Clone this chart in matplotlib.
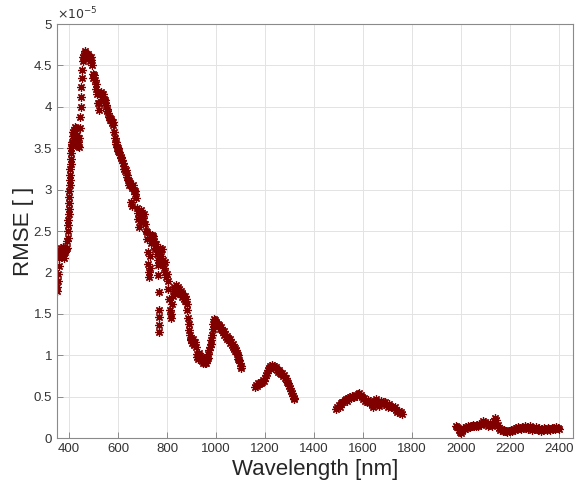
import numpy as np
import matplotlib.pyplot as plt
import matplotlib.ticker as mticker

plt.rcParams["font.family"] = ["Liberation Sans", "DejaVu Sans"]

# RMSE values are in units of 1e-5
wl_vis = [350, 352, 354, 356, 358, 360, 362, 364, 366, 368, 370, 372, 375, 378, 380, 383, 386, 389,
          392, 393, 394, 395, 396, 397, 398, 399, 400, 401, 402, 403, 404, 405, 406, 407, 408, 409, 410,
          412, 414, 416, 418, 420, 422, 424, 426, 428, 430, 432, 434, 436, 438,
          440, 442, 444, 446, 448, 450, 452, 454, 456, 458,
          460, 463, 466, 469, 472, 475, 478, 481, 484, 487, 490,
          493, 496, 499, 502, 505, 508, 511, 514, 517, 520, 523, 526, 529, 532, 535, 538, 541, 544, 547,
          550, 553, 556, 559, 562, 565, 568, 571, 574, 577, 580, 583, 586, 589, 592, 595, 598, 601, 604,
          607, 610, 613, 616, 619, 622, 625, 628, 631, 634, 637, 640, 643, 646, 649, 652, 655, 658, 661,
          664, 667, 670, 673, 676, 679, 682, 685, 688, 691, 694, 697, 700, 703, 706, 709, 712, 716, 718,
          720, 722, 724, 726, 728, 730, 732, 735, 738, 741, 744, 747, 750, 753, 756, 759, 762,
          764, 764.5, 765, 765.5, 766, 766.5, 767, 769, 772, 775, 778, 781, 784, 787, 790, 793, 796, 799,
          802, 805, 808, 811, 814, 817, 820, 823, 826, 829, 832, 835, 838, 841, 844, 847, 850, 853, 856,
          859, 862, 865, 868, 871, 874, 877, 880, 883, 886, 889, 891, 893, 896, 899, 902, 905, 908, 911,
          914, 917, 920, 923, 926, 929, 932, 935, 938, 941, 944, 947, 950, 953, 956, 959, 962, 965, 968,
          971, 974, 977, 980, 983, 986, 989, 992, 995, 998, 1001, 1004, 1007, 1010, 1013, 1016, 1019,
          1022, 1025, 1028, 1031, 1034, 1037, 1040, 1043, 1046, 1049, 1052, 1055, 1058, 1061, 1064, 1067,
          1070, 1073, 1076, 1079, 1082, 1085, 1088, 1091, 1094, 1097, 1100, 1103]
rmse_vis = [1.77, 1.82, 1.90, 1.98, 2.08, 2.18, 2.25, 2.22, 2.28, 2.30, 2.20, 2.27, 2.31, 2.23, 2.18, 2.25, 2.28, 2.30,
            2.38, 2.42, 2.50, 2.57, 2.63, 2.70, 2.77, 2.84, 2.91, 2.98, 3.05, 3.12, 3.18, 3.25, 3.31, 3.37, 3.44, 3.50, 3.55,
            3.58, 3.65, 3.70, 3.62, 3.72, 3.76, 3.68, 3.74, 3.60, 3.55, 3.66, 3.53, 3.58, 3.52,
            3.62, 3.75, 3.88, 4.00, 4.12, 4.24, 4.35, 4.45, 4.55, 4.60,
            4.63, 4.67, 4.65, 4.60, 4.62, 4.58, 4.64, 4.60, 4.55, 4.60, 4.57,
            4.50, 4.40, 4.35, 4.38, 4.32, 4.28, 4.22, 4.15, 4.05, 3.96, 4.05, 4.15, 4.18, 4.15, 4.12, 4.16, 4.10, 4.08, 4.05,
            4.02, 3.98, 3.95, 3.92, 3.88, 3.86, 3.84, 3.85, 3.80, 3.82, 3.78, 3.70, 3.62, 3.55, 3.58, 3.52, 3.50, 3.47, 3.45,
            3.42, 3.38, 3.40, 3.36, 3.32, 3.28, 3.25, 3.22, 3.24, 3.18, 3.15, 3.12, 3.10, 3.05, 3.08, 2.85, 2.80, 3.02, 3.06,
            3.00, 2.95, 2.98, 2.90, 2.78, 2.72, 2.65, 2.55, 2.62, 2.70, 2.75, 2.72, 2.66, 2.62, 2.70, 2.58, 2.50, 2.49, 2.40,
            2.25, 2.10, 2.00, 1.95, 2.05, 2.20, 2.35, 2.42, 2.45, 2.40, 2.44, 2.38, 2.30, 2.34, 2.28, 2.22, 2.15,
            2.09, 1.97, 1.76, 1.55, 1.46, 1.37, 1.28, 2.25, 2.30, 2.20, 2.28, 2.15, 2.10, 2.05, 2.12, 2.00, 1.95, 1.98,
            1.90, 1.80, 1.68, 1.55, 1.45, 1.50, 1.62, 1.72, 1.78, 1.82, 1.75, 1.80, 1.85, 1.78, 1.82, 1.76, 1.80, 1.74, 1.78,
            1.70, 1.75, 1.72, 1.68, 1.72, 1.66, 1.68, 1.62, 1.55, 1.45, 1.38, 1.30, 1.24, 1.20, 1.18, 1.15, 1.20, 1.14, 1.12,
            1.16, 1.10, 1.02, 0.98, 0.96, 1.00, 1.03, 0.98, 0.95, 0.98, 0.93, 0.91, 0.94, 0.92, 0.90, 0.91, 0.95, 0.97, 1.02,
            1.06, 1.10, 1.14, 1.18, 1.25, 1.32, 1.38, 1.44, 1.42, 1.38, 1.40, 1.36, 1.38, 1.35, 1.36, 1.32, 1.34,
            1.30, 1.31, 1.28, 1.29, 1.25, 1.26, 1.22, 1.23, 1.20, 1.21, 1.18, 1.19, 1.15, 1.16, 1.12, 1.13,
            1.10, 1.08, 1.09, 1.05, 1.06, 1.02, 1.00, 0.96, 0.94, 0.90, 0.87, 0.84]

wl_nir1 = [1158, 1162, 1166, 1170, 1174, 1178, 1182, 1186, 1190, 1194, 1198, 1202, 1206, 1210, 1214, 1218,
           1222, 1226, 1230, 1234, 1238, 1242, 1246, 1250, 1254, 1258, 1262, 1266, 1270, 1274, 1278, 1282,
           1286, 1290, 1294, 1298, 1302, 1306, 1310, 1314, 1318, 1320]
rmse_nir1 = [0.62, 0.64, 0.63, 0.66, 0.65, 0.67, 0.66, 0.68, 0.70, 0.69, 0.72, 0.76, 0.78, 0.82, 0.85, 0.84,
             0.87, 0.86, 0.88, 0.85, 0.87, 0.84, 0.86, 0.82, 0.80, 0.82, 0.79, 0.77, 0.78, 0.75, 0.76, 0.73,
             0.72, 0.68, 0.66, 0.63, 0.60, 0.57, 0.54, 0.51, 0.48, 0.47]

wl_swir1 = list(range(1490, 1761, 5))
rmse_swir1 = [0.35, 0.37, 0.40, 0.38, 0.42, 0.44, 0.43, 0.46, 0.47, 0.45, 0.48, 0.50, 0.48, 0.51, 0.49, 0.50,
              0.52, 0.51, 0.53, 0.54, 0.52, 0.50, 0.47, 0.48, 0.45, 0.44, 0.46, 0.43, 0.45, 0.40, 0.38, 0.41,
              0.45, 0.47, 0.43, 0.39, 0.42, 0.45, 0.43, 0.41, 0.43, 0.40, 0.38, 0.41, 0.39, 0.37, 0.38, 0.36,
              0.37, 0.34, 0.32, 0.33, 0.30, 0.31, 0.29]

wl_swir2 = list(range(1980, 2401, 5))
rmse_swir2 = [0.15, 0.13, 0.10, 0.07, 0.06, 0.09, 0.12, 0.11, 0.13, 0.12, 0.14, 0.13, 0.15, 0.14, 0.16, 0.15,
              0.14, 0.16, 0.15, 0.17, 0.16, 0.18, 0.20, 0.18, 0.19, 0.17, 0.14, 0.16, 0.18, 0.15, 0.17, 0.21,
              0.24, 0.22, 0.16, 0.12, 0.10, 0.11, 0.09, 0.10, 0.08, 0.09, 0.07, 0.09, 0.08, 0.10, 0.09, 0.11,
              0.10, 0.12, 0.11, 0.13, 0.12, 0.11, 0.13, 0.12, 0.14, 0.12, 0.13, 0.11, 0.14, 0.12, 0.10, 0.12,
              0.11, 0.13, 0.11, 0.10, 0.12, 0.09, 0.11, 0.10, 0.12, 0.11, 0.10, 0.12, 0.11, 0.10, 0.12, 0.11,
              0.12, 0.11, 0.13, 0.12, 0.11]

segments = [(wl_vis, rmse_vis), (wl_nir1, rmse_nir1), (wl_swir1, rmse_swir1), (wl_swir2, rmse_swir2)]

fig = plt.figure(figsize=(5.77, 4.87), dpi=100)
ax = fig.add_axes([0.0988, 0.1006, 0.894, 0.850])

red = "#800000"
for wl, r in segments:
    ax.plot(wl, r, linestyle="none", marker=(8, 2, 0), markersize=6,
            markeredgewidth=0.9, color=red, markeredgecolor=red)

ax.set_xlim(350, 2457)
ax.set_ylim(0, 5)
ax.yaxis.set_major_locator(mticker.MultipleLocator(0.5))
ax.yaxis.set_major_formatter(mticker.FuncFormatter(lambda v, p: f"{v:g}"))
ax.set_xticks(np.arange(400, 2401, 200))

ax.grid(True, color="#e3e3e3", linewidth=0.7)
ax.set_axisbelow(True)
for s in ax.spines.values():
    s.set_color("#8a8a8a")
    s.set_linewidth(0.8)
ax.tick_params(direction="in", length=4, width=0.7, color="#8a8a8a",
               labelsize=9.5, labelcolor="#333333", top=False, right=False)

ax.set_xlabel("Wavelength [nm]", fontsize=16, color="#262626", labelpad=3)
ax.set_ylabel("RMSE [ ]", fontsize=16, color="#262626", labelpad=0)
ax.text(0.0, 1.005, r"$\times10^{-5}$", transform=ax.transAxes, fontsize=9,
        color="#333333", ha="left", va="bottom")

fig.savefig("out.png", dpi=100)
